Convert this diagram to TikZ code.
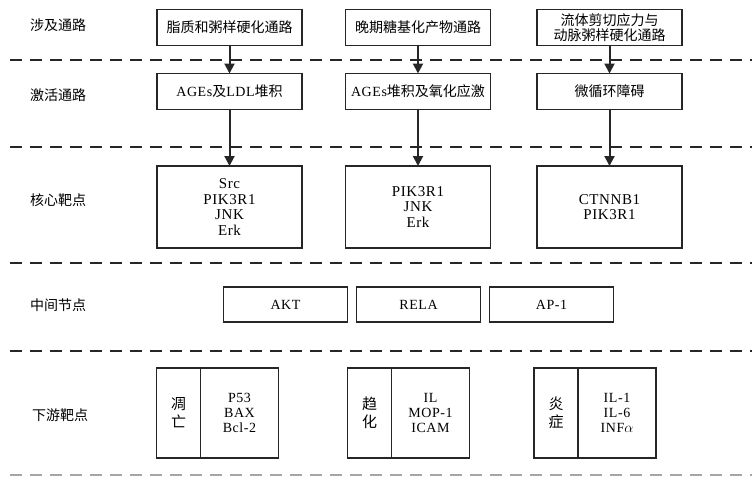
\documentclass[tikz,border=0pt]{standalone}
\usepackage{fontspec}
\setmainfont{Liberation Serif}[LetterSpace=4]
\newfontfamily\cjk{Noto Sans CJK SC}
\usetikzlibrary{positioning}
\usetikzlibrary{arrows.meta}
\colorlet{lineC}{black!85}
\tikzstyle{pbox}=[draw=lineC, line width=1.6pt, outer sep=0pt, shape=rectangle, minimum width=145pt, minimum height=36pt, inner sep=1pt, align=center, font=\fontsize{14}{15}\selectfont]
\tikzstyle{cbox}=[pbox, minimum height=82pt, font=\fontsize{15}{15.5}\selectfont]
\tikzstyle{mdbox}=[pbox, minimum width=124pt, minimum height=35pt, node distance=9pt, font=\fontsize{14}{15}\selectfont]
\tikzstyle{sdbox}=[pbox, minimum width=44pt, minimum height=90pt, font=\fontsize{15}{18}\selectfont]
\tikzstyle{tgbox}=[pbox, minimum width=78pt, minimum height=90pt, node distance=0pt, font=\fontsize{14}{15}\selectfont]
\tikzstyle{rlab}=[anchor=west, inner sep=0pt, font=\fontsize{14}{15}\selectfont\cjk]
\tikzstyle{sepline}=[line width=1.8pt, dash pattern=on 12pt off 8pt, color=lineC]
\tikzstyle{parrow}=[line width=2pt, -{Triangle[width=10pt,length=10pt]}, color=lineC]
\def\pathbox{\node[style=pbox]}
\def\corebox{\node[style=cbox]}
\def\midbox{\node[style=mdbox]}
\def\sidebox{\node[style=sdbox]}
\def\tgtbox{\node[style=tgbox]}
\def\rowlab{\node[style=rlab]}
\def\parrow{\draw[style=parrow]}

\begin{document}
\begin{tikzpicture}[x=1pt, y=-1pt]
      \useasboundingbox (0,0) rectangle (752,477);
      % row labels
      \rowlab (lab0) at (30,25)  {涉及通路};
      \rowlab (lab1) at (30,95)  {激活通路};
      \rowlab (lab2) at (30,200) {核心靶点};
      \rowlab (lab3) at (30,305) {中间节点};
      \rowlab (lab4) at (32,415) {下游靶点};

      % separators
      \draw[sepline] (10,60)  -- (752,60);
      \draw[sepline] (10,147) -- (752,147);
      \draw[sepline] (10,263) -- (752,263);
      \draw[sepline] (10,351) -- (752,351);
      \draw[sepline, color=black!35] (10,475) -- (752,475);

      % next
      \pathbox (path0) at (229.5,27.5) {\cjk 脂质和粥样硬化通路};
      \pathbox (path1) at (418,27.5)   {\cjk 晚期糖基化产物通路};
      \pathbox (path2) at (609.5,27.5) {\cjk 流体剪切应力与\\\cjk 动脉粥样硬化通路};
      % next
      \pathbox (act0) at (229.5,91.5) {AGEs{\cjk 及}LDL{\cjk 堆积}};
      \pathbox (act1) at (418,91.5)   {AGEs{\cjk 堆积及氧化应激}};
      \pathbox (act2) at (609.5,91.5) {\cjk 微循环障碍};

      \parrow (path0) -- (act0);
      \parrow (path1) -- (act1);
      \parrow (path2) -- (act2);
      % next
      \corebox (core0) at (229.5,207) {Src\\PIK3R1\\JNK\\Erk};
      \corebox (core1) at (418,207)   {PIK3R1\\JNK\\Erk};
      \corebox (core2) at (609.5,207) {CTNNB1\\PIK3R1};

      \parrow (act0) -- (core0);
      \parrow (act1) -- (core1);
      \parrow (act2) -- (core2);
      % next
      \midbox (mid0) at (285.5,304.5) {AKT};
      \midbox (mid1) [right=of mid0]  {RELA};
      \midbox (mid2) [right=of mid1]  {AP-1};
      % next
      \sidebox (side0) at (178.5,413)   {\cjk 凋\\\cjk 亡};
      \tgtbox  (down0) [right=of side0] {P53\\BAX\\Bcl-2};
      \sidebox (side1) at (369.5,413)   {\cjk 趋\\\cjk 化};
      \tgtbox  (down1) [right=of side1] {IL\\MOP-1\\ICAM};
      \sidebox (side2) at (556,413)     {\cjk 炎\\\cjk 症};
      \tgtbox  (down2) [right=of side2] {IL-1\\IL-6\\INF$\alpha$};

\end{tikzpicture}
\end{document}
